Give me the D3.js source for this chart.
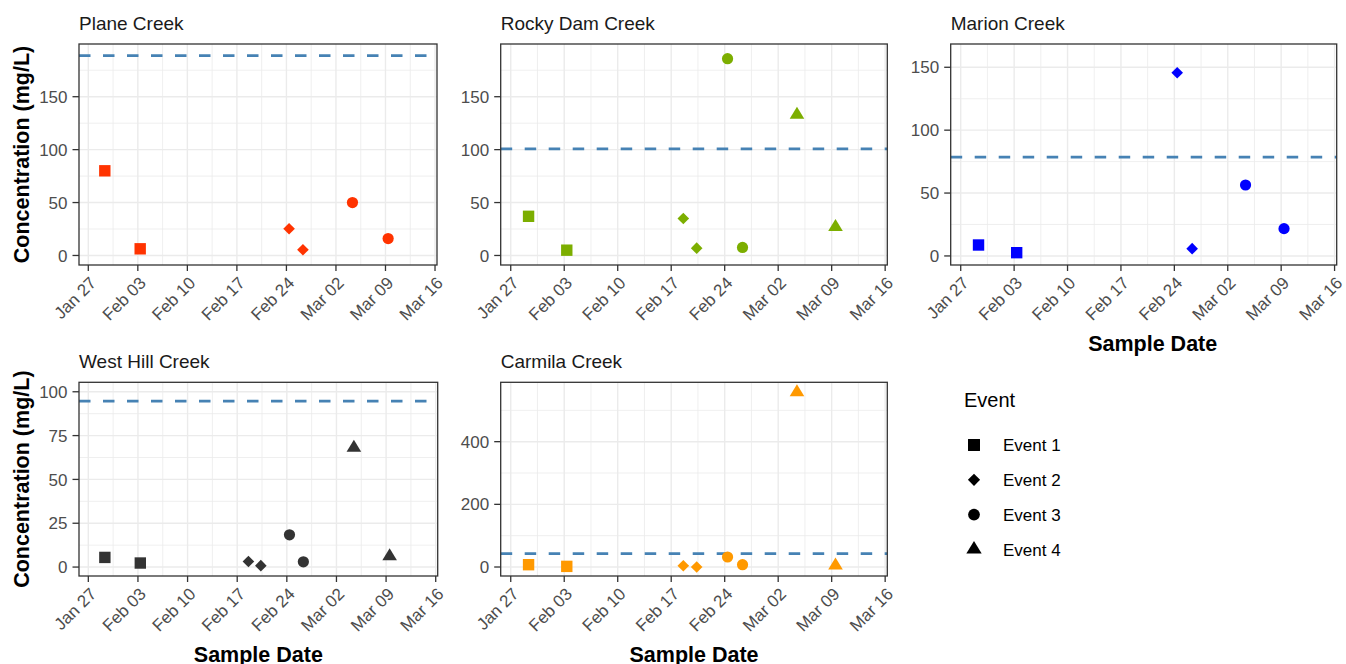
<!DOCTYPE html>
<html>
<head>
<meta charset="utf-8">
<script src="https://cdn.jsdelivr.net/npm/d3@7"></script>
<style>
  html, body { margin: 0; padding: 0; background: #ffffff; }
  svg { display: block; font-family: "Liberation Sans", Arial, sans-serif; }
</style>
</head>
<body>
<svg id="chart" width="1346" height="664"></svg>
<script>
// ---------------- DATA ----------------
const sites = ["Plane Creek", "Rocky Dam Creek", "Marion Creek", "West Hill Creek", "Carmila Creek"];
const eventNames = ["Event 1", "Event 2", "Event 3", "Event 4"];
const guidelineValues = [188.8, 100.7, 78.5, 94.7, 42.4];

const planeDates  = ["2020-01-29 08:00", "2020-02-03 08:00", "2020-02-24 09:00", "2020-02-26 08:00", "2020-03-04 08:00", "2020-03-09 09:00"];
const planeEvents = [1, 1, 2, 2, 3, 3];
const planeValues = [80, 6.3, 25.2, 5.4, 50, 16];

const rockyDates  = ["2020-01-29 08:00", "2020-02-03 08:00", "2020-02-18 14:00", "2020-02-20 08:00", "2020-02-24 09:00", "2020-02-26 08:00", "2020-03-04 11:00", "2020-03-09 12:00"];
const rockyEvents = [1, 1, 2, 2, 3, 3, 4, 4];
const rockyValues = [37, 5, 35, 6.9, 185.9, 7.6, 133, 27];

const marionDates  = ["2020-01-29 08:00", "2020-02-03 08:00", "2020-02-24 09:00", "2020-02-26 08:00", "2020-03-04 08:00", "2020-03-09 09:00"];
const marionEvents = [1, 1, 2, 2, 3, 3];
const marionValues = [8.7, 2.6, 145.7, 5.8, 56.4, 21.7];

const westHillDates  = ["2020-01-29 08:00", "2020-02-03 08:00", "2020-02-18 14:00", "2020-02-20 08:00", "2020-02-24 09:00", "2020-02-26 08:00", "2020-03-04 11:00", "2020-03-09 12:00"];
const westHillEvents = [1, 1, 2, 2, 3, 3, 4, 4];
const westHillValues = [5.5, 2.3, 3.2, 0.8, 18.4, 3.0, 68, 6.1];

const carmilaDates  = ["2020-01-29 08:00", "2020-02-03 08:00", "2020-02-18 14:00", "2020-02-20 08:00", "2020-02-24 09:00", "2020-02-26 08:00", "2020-03-04 11:00", "2020-03-09 12:00"];
const carmilaEvents = [1, 1, 2, 2, 3, 3, 4, 4];
const carmilaValues = [7.4, 2, 4, 0, 32, 7.4, 558, 5];

const xTickDates = ["2020-01-27", "2020-02-03", "2020-02-10", "2020-02-17", "2020-02-24", "2020-03-02", "2020-03-09", "2020-03-16"];
const xTickLabels = ["Jan 27", "Feb 03", "Feb 10", "Feb 17", "Feb 24", "Mar 02", "Mar 09", "Mar 16"];
const planeTicks = [0, 50, 100, 150];
const rockyTicks = [0, 50, 100, 150];
const marionTicks = [0, 50, 100, 150];
const westHillTicks = [0, 25, 50, 75, 100];
const carmilaTicks = [0, 200, 400];

// ---------------- CONFIG (styles / layout) ----------------
const siteColors = ["#FF3300", "#7CAE00", "#0000FF", "#333333", "#FF9900"];
const parseDT = d3.utcParse("%Y-%m-%d %H:%M");
const parseD = d3.utcParse("%Y-%m-%d");
const xDomain = [parseDT("2020-01-25 16:28"), parseDT("2020-03-16 06:43")];
const yDomains = [[-9, 199.8], [-9, 199.8], [-7.2, 168.5], [-5.1, 105.4], [-28.7, 589.5]];

const panels = [
  { x0: 79,    y0: 44,    x1: 437,    y1: 265, ylab: true,  xlab: false },
  { x0: 500.7, y0: 44,    x1: 887.3,  y1: 265, ylab: false, xlab: false },
  { x0: 950.7, y0: 44,    x1: 1336.7, y1: 265, ylab: false, xlab: true, xlabShift: 9 },
  { x0: 79,    y0: 382.3, x1: 437.7,  y1: 576, ylab: true,  xlab: true },
  { x0: 500.7, y0: 382.3, x1: 887.3,  y1: 576, ylab: false, xlab: true }
];

const siteData = [
  { dates: planeDates, events: planeEvents, values: planeValues, ticks: planeTicks },
  { dates: rockyDates, events: rockyEvents, values: rockyValues, ticks: rockyTicks },
  { dates: marionDates, events: marionEvents, values: marionValues, ticks: marionTicks },
  { dates: westHillDates, events: westHillEvents, values: westHillValues, ticks: westHillTicks },
  { dates: carmilaDates, events: carmilaEvents, values: carmilaValues, ticks: carmilaTicks }
];

function shapePath(ev, k) {
  k = k || 1;
  switch (ev) {
    case 1: { const s = 5.7 * k; return `M${-s},${-s}H${s}V${s}H${-s}Z`; }
    case 2: { const s = 5.8 * k; return `M0,${-s}L${s},0L0,${s}L${-s},0Z`; }
    case 3: { const r = 5.6 * k; return `M${r},0A${r},${r} 0 1,1 ${-r},0A${r},${r} 0 1,1 ${r},0Z`; }
    case 4: { const w = 7.3 * k, h = 12 * k; return `M0,${-h * 2 / 3}L${w},${h / 3}L${-w},${h / 3}Z`; }
  }
}

const svg = d3.select("#chart");
svg.append("rect").attr("width", 1346).attr("height", 664).attr("fill", "#ffffff");

const gridColor = "#EBEBEB";
const borderColor = "#333333";
const tickTextColor = "#4D4D4D";
const DAY = 86400000;

panels.forEach((p, i) => {
  const d = siteData[i];
  const w = p.x1 - p.x0, h = p.y1 - p.y0;
  const x = d3.scaleUtc().domain(xDomain).range([0, w]);
  const y = d3.scaleLinear().domain(yDomains[i]).range([h, 0]);
  const g = svg.append("g").attr("transform", `translate(${p.x0},${p.y0})`);

  const xMajor = xTickDates.map(parseD);
  const xMinor = [];
  xMajor.forEach((t, k) => {
    const m = new Date(t.getTime() + 3.5 * DAY);
    if (m >= xDomain[0] && m <= xDomain[1]) xMinor.push(m);
    const m2 = new Date(t.getTime() - 3.5 * DAY);
    if (k === 0 && m2 >= xDomain[0]) xMinor.push(m2);
  });
  const yMajor = d.ticks;
  const step = yMajor[1] - yMajor[0];
  const yMinor = [];
  for (let v = yMajor[0] - step / 2; v <= yDomains[i][1]; v += step) {
    if (v >= yDomains[i][0]) yMinor.push(v);
  }

  // minor grid
  g.selectAll(".xminor").data(xMinor).enter().append("line")
    .attr("x1", t => x(t)).attr("x2", t => x(t)).attr("y1", 0).attr("y2", h)
    .attr("stroke", gridColor).attr("stroke-width", 0.8);
  g.selectAll(".yminor").data(yMinor).enter().append("line")
    .attr("x1", 0).attr("x2", w).attr("y1", v => y(v)).attr("y2", v => y(v))
    .attr("stroke", gridColor).attr("stroke-width", 0.8);
  // major grid
  g.selectAll(".xmajor").data(xMajor).enter().append("line")
    .attr("x1", t => x(t)).attr("x2", t => x(t)).attr("y1", 0).attr("y2", h)
    .attr("stroke", gridColor).attr("stroke-width", 1.4);
  g.selectAll(".ymajor").data(yMajor).enter().append("line")
    .attr("x1", 0).attr("x2", w).attr("y1", v => y(v)).attr("y2", v => y(v))
    .attr("stroke", gridColor).attr("stroke-width", 1.4);

  // guideline
  g.append("line")
    .attr("x1", 0).attr("x2", w)
    .attr("y1", y(guidelineValues[i])).attr("y2", y(guidelineValues[i]))
    .attr("stroke", "#4682B4").attr("stroke-width", 2.8)
    .attr("stroke-dasharray", "11.5,12.5");

  // points
  const pts = d.dates.map((s, j) => ({ date: parseDT(s), ev: d.events[j], v: d.values[j] }));
  g.selectAll(".pt").data(pts).enter().append("path")
    .attr("d", q => shapePath(q.ev))
    .attr("transform", q => `translate(${x(q.date)},${y(q.v)})`)
    .attr("fill", siteColors[i]);

  // border
  g.append("rect").attr("x", 0).attr("y", 0).attr("width", w).attr("height", h)
    .attr("fill", "none").attr("stroke", borderColor).attr("stroke-width", 1.3);

  // y axis ticks & labels
  yMajor.forEach(v => {
    g.append("line").attr("x1", -6.5).attr("x2", 0).attr("y1", y(v)).attr("y2", y(v))
      .attr("stroke", borderColor).attr("stroke-width", 1.3);
    g.append("text").attr("x", -11.5).attr("y", y(v)).attr("dy", "0.36em")
      .attr("text-anchor", "end").attr("font-size", 17).attr("fill", tickTextColor)
      .text(v);
  });
  // x axis ticks & labels
  xMajor.forEach((t, k) => {
    g.append("line").attr("x1", x(t)).attr("x2", x(t)).attr("y1", h).attr("y2", h + 6)
      .attr("stroke", borderColor).attr("stroke-width", 1.3);
    g.append("text")
      .attr("transform", `translate(${x(t) + 9},${h + 19}) rotate(-45)`)
      .attr("text-anchor", "end").attr("font-size", 17).attr("fill", tickTextColor)
      .text(xTickLabels[k]);
  });

  // panel title
  svg.append("text").attr("x", p.x0).attr("y", p.y0 - 14)
    .attr("font-size", 19).attr("fill", "#1A1A1A").text(sites[i]);

  if (p.ylab) {
    svg.append("text")
      .attr("transform", `translate(29,${(p.y0 + p.y1) / 2}) rotate(-90)`)
      .attr("text-anchor", "middle").attr("font-size", 21.5).attr("font-weight", "bold")
      .attr("fill", "#000").text("Concentration (mg/L)");
  }
  if (p.xlab) {
    svg.append("text")
      .attr("x", (p.x0 + p.x1) / 2 + (p.xlabShift || 0)).attr("y", p.y1 + 86)
      .attr("text-anchor", "middle").attr("font-size", 21.5).attr("font-weight", "bold")
      .attr("fill", "#000").text("Sample Date");
  }
});

// legend
const lg = svg.append("g");
lg.append("text").attr("x", 964).attr("y", 407).attr("font-size", 20).attr("fill", "#000").text("Event");
eventNames.forEach((name, k) => {
  const cy = 445 + k * 34.8;
  lg.append("path").attr("d", shapePath(k + 1, 1.05))
    .attr("transform", `translate(974,${cy})`).attr("fill", "#000");
  lg.append("text").attr("x", 1003).attr("y", cy).attr("dy", "0.36em")
    .attr("font-size", 17).attr("fill", "#000").text(name);
});
</script>
</body>
</html>
